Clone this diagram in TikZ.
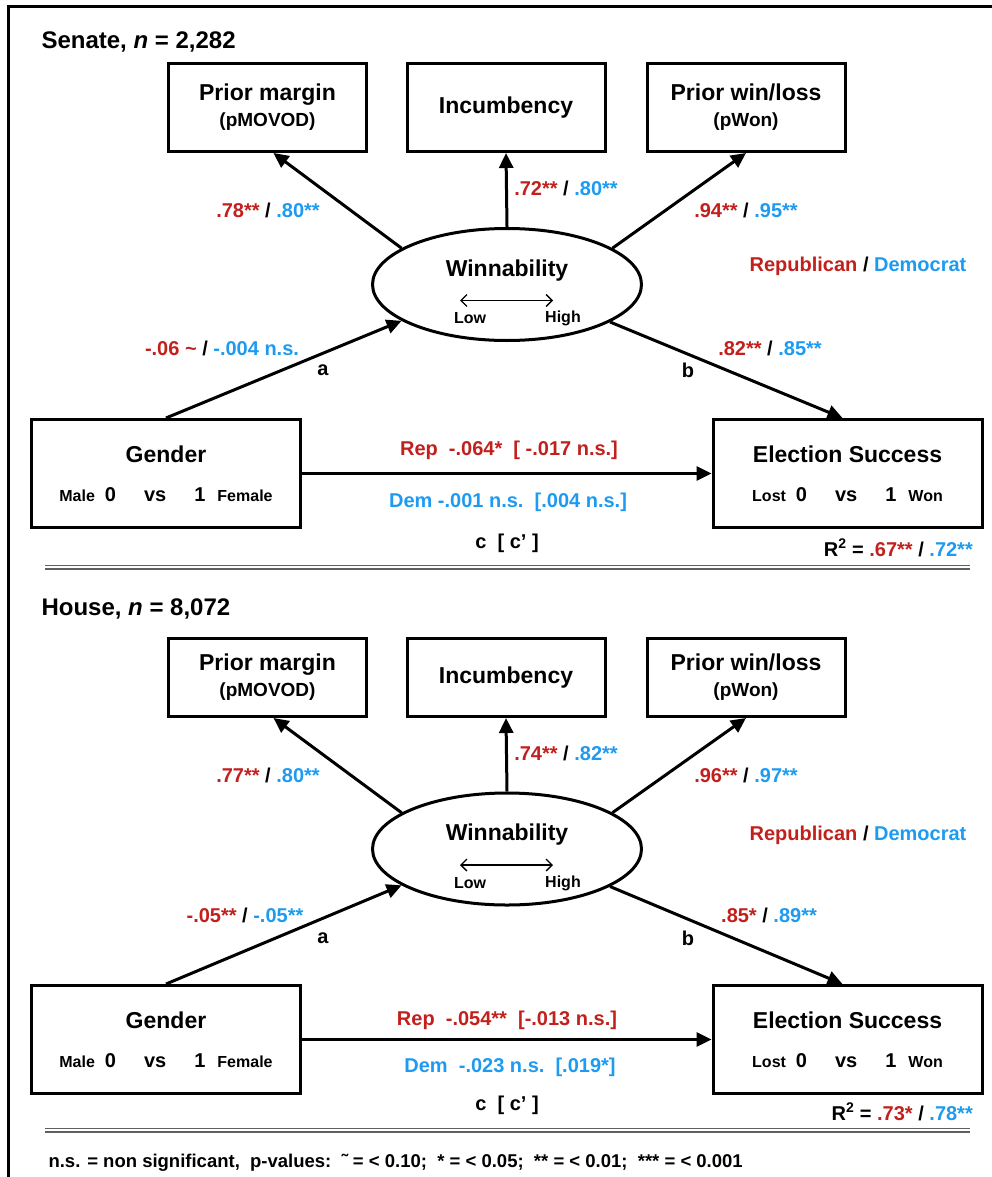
\documentclass[tikz,border=0pt]{standalone}
\usepackage{fontspec}
\setmainfont{Liberation Sans}
\usetikzlibrary{arrows.meta,positioning,shapes.geometric,calc}
\definecolor{rep}{RGB}{194,32,28}
\definecolor{dem}{RGB}{30,155,240}
\definecolor{rulegray}{RGB}{95,95,95}
\newcommand{\fsz}[1]{\fontsize{#1}{#1}\selectfont}
\newcommand{\rd}[1]{\textcolor{rep}{#1}}
\newcommand{\bl}[1]{\textcolor{dem}{#1}}
\newcommand{\codes}[2]{{\fsz{16}#1}\hspace{10pt}0\hspace{28pt}vs\hspace{28pt}1\hspace{12pt}{\fsz{16}#2}}
\tikzset{
  title/.style={anchor=west, font=\bfseries\fsz{24}},
  box/.style={draw, line width=3pt, minimum width=198pt, align=center,
    inner sep=0pt, font=\bfseries\fsz{23}},
  bigbox/.style={draw, line width=3pt, minimum width=269pt, minimum height=108pt,
    align=center, inner sep=0pt, font=\bfseries\fsz{23}},
  latent/.style={draw, ellipse, line width=3pt, minimum width=269pt,
    minimum height=112pt, inner sep=0pt},
  link/.style={line width=3pt, -{Triangle[length=15pt,width=14pt]}},
  scalearr/.style={line width=1.3pt, {Straight Barb[length=6pt,width=12pt]}-{Straight Barb[length=6pt,width=12pt]}},
  coef/.style={font=\bfseries\fsz{20}, inner sep=0pt},
  small/.style={font=\bfseries\fsz{16}, inner sep=0pt},
  sep/.style={draw=rulegray, line width=1.4pt, double, double distance=2.2pt}
}

\begin{document}
\begin{tikzpicture}[x=1pt,y=-1pt]
  \useasboundingbox (0,0) rectangle (992,1177);
  \draw[line width=3pt] (8,1177) -- (8,7) -- (992,7);

  % Senate
  \node[title] (sTitle) at (38,42) {Senate, \textit{n} = 2,282};
  \node[box, minimum height=88pt] (sMargin) at (267.5,107.5) {Prior margin\\[3pt]{\fsz{19}(pMOVOD)}};
  \node[box, minimum height=88pt] (sIncumb) at (506,107.5) {Incumbency};
  \node[box, minimum height=88pt] (sWinloss) at (746,107.5) {Prior win/loss\\[3pt]{\fsz{19}(pWon)}};
  \node[latent] (sWin) at (507,284.5) {};
  \node[bigbox] (sGender) at (166,473.5) {Gender\\[16pt]{\fsz{20}\codes{Male}{Female}}};
  \node[bigbox] (sSuccess) at (847.5,473.5) {Election Success\\[16pt]{\fsz{20}\codes{Lost}{Won}}};

  \node[coef] (sLblMargin) at (268,210) {\rd{.78**} / \bl{.80**}};
  \node[coef] (sLblIncumb) at (566,188) {\rd{.72**} / \bl{.80**}};
  \node[coef] (sLblWinloss) at (746,210) {\rd{.94**} / \bl{.95**}};
  \node[coef] (sParty) at (858,266) {\rd{Republican} / \bl{Democrat}};
  \node[coef] (sLblA) at (222,348) {\rd{-.06 \textasciitilde} / \bl{-.004 n.s.}};
  \node[coef] (sA) at (323,370) {a};
  \node[coef] (sB) at (688,370) {b};
  \node[coef] (sLblB) at (770,348) {\rd{.82**} / \bl{.85**}};
  \node[coef] (sRep) at (509,450) {\rd{Rep\ \ -.064*\ \ [ -.017 n.s.]}};
  \node[coef] (sDem) at (508,502) {\bl{Dem -.001 n.s.\ \ [.004 n.s.]}};
  \node[coef] (sC) at (507,543) {c\ \ [ c’ ]};
  \node[coef, anchor=east] (sR2) at (973,548) {R\textsuperscript{2} = \rd{.67**} / \bl{.72**}};
  \draw[sep] (45,567) -- (970,567);

  % House
  \node[title] (hTitle) at (38,609) {House, \textit{n} = 8,072};
  \node[box, minimum height=78pt] (hMargin) at (267.5,677.5) {Prior margin\\[3pt]{\fsz{19}(pMOVOD)}};
  \node[box, minimum height=78pt] (hIncumb) at (506,677.5) {Incumbency};
  \node[box, minimum height=78pt] (hWinloss) at (746,677.5) {Prior win/loss\\[3pt]{\fsz{19}(pWon)}};
  \node[latent] (hWin) at (507,849) {};
  \node[bigbox] (hGender) at (166,1039.5) {Gender\\[16pt]{\fsz{20}\codes{Male}{Female}}};
  \node[bigbox] (hSuccess) at (847.5,1039.5) {Election Success\\[16pt]{\fsz{20}\codes{Lost}{Won}}};

  \node[coef] (hLblMargin) at (268,775) {\rd{.77**} / \bl{.80**}};
  \node[coef] (hLblIncumb) at (566,753) {\rd{.74**} / \bl{.82**}};
  \node[coef] (hLblWinloss) at (746,775) {\rd{.96**} / \bl{.97**}};
  \node[coef] (hParty) at (858,835) {\rd{Republican} / \bl{Democrat}};
  \node[coef] (hLblA) at (245,915) {\rd{-.05**} / \bl{-.05**}};
  \node[coef] (hA) at (323,938) {a};
  \node[coef] (hB) at (688,938) {b};
  \node[coef] (hLblB) at (769,915) {\rd{.85*} / \bl{.89**}};
  \node[coef] (hRep) at (507,1020) {\rd{Rep\ \ -.054**\ \ [-.013 n.s.]}};
  \node[coef] (hDem) at (510,1067) {\bl{Dem\ \ -.023 n.s.\ \ [.019*]}};
  \node[coef] (hC) at (507,1105) {c\ \ [ c’ ]};
  \node[coef, anchor=east] (hR2) at (973,1112) {R\textsuperscript{2} = \rd{.73*} / \bl{.78**}};
  \draw[sep] (45,1130) -- (970,1130);

  \node[anchor=west, font=\bfseries\fsz{18.5}] (note) at (45,1163)
    {n.s. = non significant,\ \ p-values:\ \ ˜ = < 0.10;\ \ * = < 0.05;\ \ ** = < 0.01;\ \ *** = < 0.001};

  % both panels share the same paths
  \foreach \p in {s,h}{
    \node[font=\bfseries\fsz{23}] (\p WinTxt) at ($(\p Win)+(0,-14)$) {Winnability};
    \node[small] (\p Low) at ($(\p Win)+(-37,34)$) {Low};
    \node[small] (\p High) at ($(\p Win)+(56,34)$) {High};
    \draw[scalearr] ($(\p Win)+(-47,16)$) -- ($(\p Win)+(46,16)$);
    \draw[link] (\p Win.161) -- ([xshift=6pt]\p Margin.south);
    \draw[link] (\p Win.north) -- (\p Incumb.south);
    \draw[link] (\p Win.19) -- (\p Winloss.south);
    \draw[link] (\p Gender.north) -- (\p Win.199);
    \draw[link] (\p Win.-20) -- ([xshift=-5pt]\p Success.north);
    \draw[link] (\p Gender.east) -- (\p Success.west);
  }
\end{tikzpicture}
\end{document}
